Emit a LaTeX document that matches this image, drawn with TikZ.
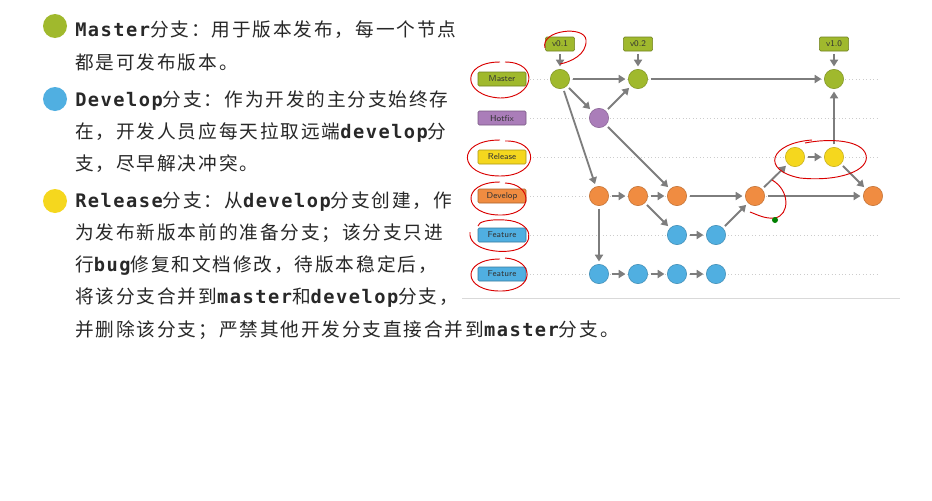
\documentclass[tikz,border=0pt]{standalone}
\usepackage{fontspec}
\setmainfont[LetterSpace=10]{Noto Sans CJK SC}
\setmonofont[LetterSpace=8]{DejaVu Sans Mono}
\usetikzlibrary{positioning, arrows.meta}
\definecolor{mgreen}{RGB}{160,185,45}
\definecolor{hpurple}{RGB}{170,125,185}
\definecolor{ryellow}{RGB}{245,215,30}
\definecolor{dorange}{RGB}{240,140,65}
\definecolor{fblue}{RGB}{80,175,225}
\definecolor{agray}{RGB}{125,125,125}
\definecolor{txt}{RGB}{40,40,40}
\newcommand{\lt}[1]{{\ttfamily\bfseries #1}}
\tikzset{
  commit/.style={circle, draw=#1!80!black, fill=#1, minimum size=14.5pt, inner sep=0pt},
  tag/.style={rectangle, rounded corners=1pt, draw=#1!70!black, fill=#1, text=black!80, font=\sffamily\fontsize{6.5}{6.5}\selectfont, minimum width=36pt, minimum height=10.5pt, inner sep=1pt},
  vtag/.style={tag=#1, minimum width=22pt},
  flow/.style={-{Triangle[length=5pt,width=6pt]}, agray, line width=1.4pt, shorten >=2pt, shorten <=2pt},
  lane/.style={gray!40, dotted, line width=0.6pt},
  penmark/.style={red!85!black, line width=0.7pt},
  textline/.style={anchor=base west, inner sep=0pt, text=txt, font=\fontsize{14}{14}\selectfont}
}
\begin{document}
\begin{tikzpicture}[x=0.75pt, y=-0.75pt]
  \useasboundingbox[fill=white] (0,0) rectangle (932,500);
  % bullets and text
  \fill[mgreen] (55,26) circle (12);
  \fill[fblue] (55,99) circle (12);
  \fill[ryellow] (55,201) circle (12);
  \node[textline] (t1) at (75,36) {\lt{Master}分支：用于版本发布，每一个节点};
  \node[textline] (t2) at (75,69) {都是可发布版本。};
  \node[textline] (t3) at (75,106) {\lt{Develop}分支：作为开发的主分支始终存};
  \node[textline] (t4) at (75,138) {在，开发人员应每天拉取远端\lt{develop}分};
  \node[textline] (t5) at (75,170) {支，尽早解决冲突。};
  \node[textline] (t6) at (75,207) {\lt{Release}分支：从\lt{develop}分支创建，作};
  \node[textline] (t7) at (75,239) {为发布新版本前的准备分支；该分支只进};
  \node[textline] (t8) at (75,271) {行\lt{bug}修复和文档修改，待版本稳定后，};
  \node[textline] (t9) at (75,303) {将该分支合并到\lt{master}和\lt{develop}分支，};
  \node[textline] (t10) at (75,336) {并删除该分支；严禁其他开发分支直接合并到\lt{master}分支。};
  % lanes
  \foreach \y in {79,118,157,196,235,274}
    \draw[lane] (530,\y) -- (880,\y);
  \draw[gray!30] (462,298) -- (900,298);
  % branch labels
  \node[tag=mgreen] (lmaster) at (502,79) {Master};
  \node[tag=hpurple] (lhotfix) at (502,118) {Hotfix};
  \node[tag=ryellow] (lrelease) at (502,157) {Release};
  \node[tag=dorange] (ldevelop) at (502,196) {Develop};
  \node[tag=fblue] (lfeat1) at (502,235) {Feature};
  \node[tag=fblue] (lfeat2) at (502,274) {Feature};
  % commits
  \node[commit=mgreen] (m1) at (560,79) {};
  \node[commit=mgreen] (m2) at (638,79) {};
  \node[commit=mgreen] (m3) at (834,79) {};
  \node[commit=hpurple] (h1) at (599,118) {};
  \node[commit=ryellow] (r1) at (795,157) {};
  \node[commit=ryellow] (r2) at (834,157) {};
  \node[commit=dorange] (d1) at (599,196) {};
  \node[commit=dorange] (d2) at (638,196) {};
  \node[commit=dorange] (d3) at (677,196) {};
  \node[commit=dorange] (d4) at (755,196) {};
  \node[commit=dorange] (d5) at (873,196) {};
  \node[commit=fblue] (f1) at (677,235) {};
  \node[commit=fblue] (f2) at (716,235) {};
  \node[commit=fblue] (g1) at (599,274) {};
  \node[commit=fblue] (g2) at (638,274) {};
  \node[commit=fblue] (g3) at (677,274) {};
  \node[commit=fblue] (g4) at (716,274) {};
  % version tags
  \node[vtag=mgreen] (v01) at (560,44) {v0.1};
  \node[vtag=mgreen] (v02) at (638,44) {v0.2};
  \node[vtag=mgreen] (v10) at (834,44) {v1.0};
  % connectors
  \foreach \a/\b in {v01/m1, v02/m2, v10/m3, m1/m2, m2/m3, m1/h1, h1/m2, m1/d1, h1/d3,
      d1/d2, d2/d3, d2/f1, f1/f2, f2/d4, d3/d4, d4/r1, r1/r2, r2/m3, r2/d5, d4/d5,
      d1/g1, g1/g2, g2/g3, g3/g4}
    \draw[flow] (\a) -- (\b);
  % red pen marks
  \draw[penmark] (545,48) .. controls (540,30) and (585,25) .. (586,40) .. controls (587,55) and (570,62) .. (560,64);
  \draw[penmark] (500,62) .. controls (460,62) and (462,96) .. (500,98) .. controls (535,98) and (540,62) .. (505,62);
  \draw[penmark] (500,140) .. controls (455,140) and (458,176) .. (500,176) .. controls (540,176) and (540,140) .. (505,141);
  \draw[penmark] (500,182) .. controls (460,182) and (462,216) .. (502,215) .. controls (535,214) and (532,184) .. (505,183);
  \draw[penmark] (470,232) .. controls (468,250) and (500,254) .. (515,250) .. controls (535,245) and (535,222) .. (505,220) .. controls (488,219) and (478,222) .. (478,226);
  \draw[penmark] (500,259) .. controls (460,259) and (462,292) .. (502,291) .. controls (535,290) and (535,260) .. (505,258);
  \draw[penmark] (812,140) .. controls (770,143) and (760,170) .. (800,178) .. controls (840,182) and (870,170) .. (866,155) .. controls (862,140) and (830,138) .. (805,143);
  \draw[penmark] (772,180) .. controls (790,190) and (790,215) .. (775,218) .. controls (765,219) and (758,215) .. (750,212);
  \fill[green!50!black] (775,220) circle (3);
\end{tikzpicture}
\end{document}
